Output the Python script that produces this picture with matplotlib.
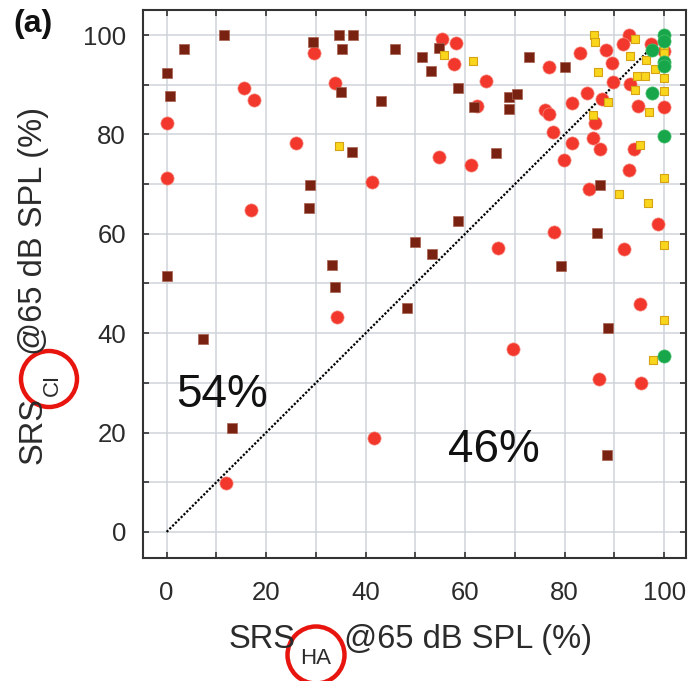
import matplotlib
matplotlib.use("Agg")
import matplotlib.pyplot as plt
from matplotlib.patches import Ellipse

plt.rcParams["font.family"] = ["Liberation Sans", "DejaVu Sans"]

# ── data: SRS_HA (x) vs SRS_CI (y), in % ───────────────────────────────────
red_ha = [0, 0, 15.5, 17.5, 17.0, 26.1, 29.6, 33.8, 41.3, 34.3, 11.9, 41.6,
          55.4, 58.1, 57.8, 64.1, 62.4, 76.9, 76.1, 76.8, 77.6, 81.4, 84.4,
          83.1, 88.3, 89.5, 89.8, 87.5, 86.0, 85.6, 87.2, 81.4, 79.9, 54.8,
          61.1, 92.9, 91.7, 97.3, 100, 93.2, 94.7, 100, 93.9, 93.0, 84.8,
          98.7, 77.9, 92.0, 66.7, 95.2, 69.6, 86.8, 95.3]
red_ci = [82.4, 71.3, 89.4, 87.0, 64.8, 78.2, 96.4, 90.3, 70.4, 43.3, 9.8, 18.8,
          99.2, 98.5, 94.2, 90.7, 85.8, 93.5, 84.9, 84.2, 80.4, 86.4, 88.3,
          96.4, 96.9, 94.4, 90.5, 87.1, 82.4, 79.3, 77.1, 78.2, 74.9, 75.5,
          73.8, 100.1, 98.2, 98.1, 96.7, 90.2, 85.8, 85.5, 77.0, 72.8, 69.0,
          61.9, 60.3, 56.9, 57.2, 45.9, 36.8, 30.8, 29.9]

brown_ha = [11.5, 3.5, 0, 0.6, 0, 29.4, 28.8, 28.6, 34.7, 37.4, 35.2, 35.0,
            43.1, 37.2, 33.2, 49.9, 45.9, 51.3, 53.1, 54.8, 58.5, 61.8, 68.9,
            70.5, 68.9, 72.9, 80.1, 66.2, 87.1, 58.5, 86.5, 53.4, 79.2, 33.8,
            48.4, 7.3, 13.2, 88.8, 88.5]
brown_ci = [100.1, 97.1, 92.3, 87.7, 51.6, 98.6, 69.8, 65.1, 100.1, 100.1, 97.1, 88.6,
            86.7, 76.4, 53.7, 58.4, 97.2, 95.5, 92.8, 97.4, 89.3, 85.6, 87.5,
            88.1, 85.2, 95.5, 93.6, 76.3, 69.8, 62.6, 60.2, 56.0, 53.5, 49.2,
            45.1, 38.8, 21.0, 41.0, 15.5]

yellow_ha = [34.6, 55.7, 61.5, 85.8, 86.0, 86.7, 88.8, 85.6, 94.2, 93.2, 96.4,
             98.1, 100, 100, 100, 94.5, 96.2, 94.2, 100, 97.0, 95.1, 100, 91.0,
             96.8, 100, 100, 97.7]
yellow_ci = [77.7, 96.0, 94.8, 100.0, 98.7, 92.6, 86.6, 83.9, 99.2, 95.8, 95.0,
             93.1, 96.3, 97.9, 91.3, 91.8, 91.8, 88.9, 88.8, 84.5, 77.8, 71.3, 68.1,
             66.2, 57.7, 42.7, 34.5]

green_ha = [100, 100, 97.5, 100, 100, 97.6, 100, 100]
green_ci = [100.1, 98.8, 97.0, 94.5, 93.8, 88.3, 79.7, 35.5]

diag = [0, 97.5]

W, H = 693, 681


def px(x, y):
    # pixel position (from top-left) -> figure fraction
    return x / W, 1 - y / H


fig = plt.figure(figsize=(W / 100, H / 100), dpi=100)
ax = fig.add_axes([0.206, 0.181, 0.784, 0.804])

ax.set_xlim(-4.8, 104.4)
ax.set_ylim(-5.2, 105)

ax.set_xticks(range(0, 101, 20))
ax.set_yticks(range(0, 101, 20))
ax.set_xticks(range(0, 101, 10), minor=True)
ax.set_yticks(range(0, 101, 10), minor=True)
ax.grid(True, which="both", color="#cfd3d9", lw=1.1, zorder=0)
ax.set_axisbelow(True)

ax.tick_params(which="both", direction="in", top=True, right=True,
               length=4, width=1.2, color="#333333")
ax.tick_params(which="major", labelsize=18.5, labelcolor="#2b2b2b")
ax.tick_params(axis="x", which="major", pad=17)
ax.tick_params(axis="y", which="major", pad=12)
for sp in ax.spines.values():
    sp.set_color("#333333")
    sp.set_linewidth(1.5)

ax.plot(diag, diag, color="black", lw=1.6, ls=(0, (1, 0.8)), zorder=2)

ax.scatter(red_ha, red_ci, s=90, marker="o", color="#f2382c",
           edgecolors="#f58a80", linewidths=0.5, zorder=3)
ax.scatter(brown_ha, brown_ci, s=55, marker="s", color="#7a2212",
           edgecolors="#a8604f", linewidths=0.5, zorder=4)
ax.scatter(yellow_ha, yellow_ci, s=40, marker="s", color="#f9d51c",
           edgecolors="#d6a316", linewidths=0.8, zorder=5)
ax.scatter(green_ha, green_ci, s=90, marker="o", color="#17a64a",
           edgecolors="#4cc070", linewidths=0.5, zorder=6)

ax.text(2, 27.5, "54%", fontsize=33, va="center", ha="left", color="#111111")
ax.text(56.5, 16.5, "46%", fontsize=33, va="center", ha="left", color="#111111")

# axis labels built from pieces so the subscripts sit low like the original
lab = dict(color="#2b2b2b", ha="left", va="baseline", rotation_mode="anchor")
fig.text(*px(229, 648), "SRS", fontsize=23.5, **lab)
fig.text(*px(300, 664), "HA", fontsize=16, **lab)
fig.text(*px(344, 648), "@65 dB SPL (%)", fontsize=23.5, **lab)

fig.text(*px(42, 464), "SRS", fontsize=23.5, rotation=90, **lab)
fig.text(*px(58, 396), "CI", fontsize=16, rotation=90, **lab)
fig.text(*px(42, 355), "@65 dB SPL (%)", fontsize=23.5, rotation=90, **lab)

fig.text(*px(13, 24), "(a)", fontsize=23, fontweight="bold", va="center",
         ha="left", color="#111111")

# red circles drawn around the subscripts
fig.add_artist(Ellipse(px(316, 655), 57 / W, 57 / H,
                       transform=fig.transFigure, fill=False,
                       edgecolor="#e8150f", lw=3.2, clip_on=False))
fig.add_artist(Ellipse(px(49, 379), 56 / W, 56 / H,
                       transform=fig.transFigure, fill=False,
                       edgecolor="#e8150f", lw=3.2, clip_on=False))

fig.savefig("out.png", dpi=100)
